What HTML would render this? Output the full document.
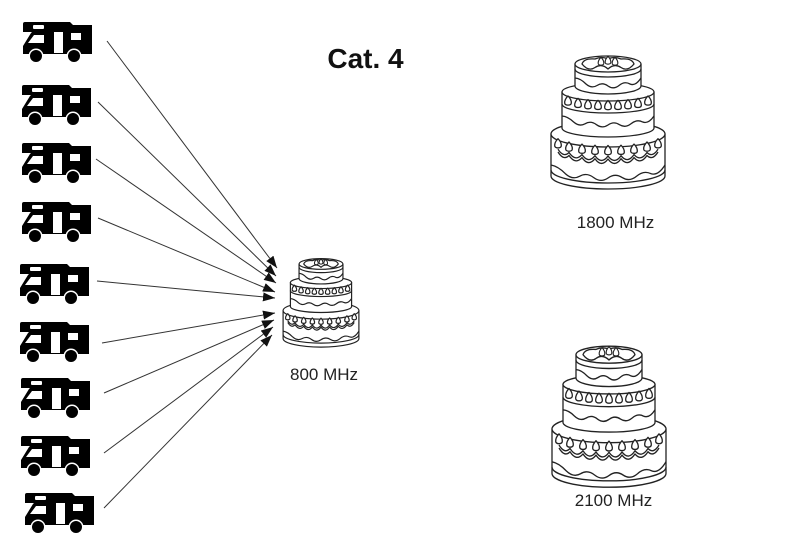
<!DOCTYPE html>
<html>
<head>
<meta charset="utf-8">
<style>
html,body{margin:0;padding:0;background:#fff;}
svg{display:block;}
</style>
</head>
<body>
<svg width="785" height="555" viewBox="0 0 785 555" xmlns="http://www.w3.org/2000/svg" xmlns:xlink="http://www.w3.org/1999/xlink">
<defs>
  <marker id="ah" markerWidth="13" markerHeight="9" refX="12" refY="4.5" orient="auto" markerUnits="userSpaceOnUse">
    <path d="M0,0 L12,4.5 L0,9 Z" fill="#111"/>
  </marker>

  <g id="cv">
    <path d="M2,0 H47 L50,3 H69 V32 H0 V24 L8,11 L9,10 H0 V2 Q0,0 2,0 Z" fill="#000"/>
    <rect x="10" y="3" width="11" height="4" rx="1" fill="#fff"/>
    <path d="M11,13 H21 V21 H5 Z" fill="#fff"/>
    <rect x="31" y="10" width="9" height="21" fill="#fff"/>
    <rect x="48" y="11" width="10" height="7" fill="#fff"/>
    <circle cx="13" cy="34" r="7.5" fill="#fff"/>
    <circle cx="13" cy="34" r="6" fill="#000"/>
    <circle cx="51" cy="34" r="7.5" fill="#fff"/>
    <circle cx="51" cy="34" r="6" fill="#000"/>
  </g>

  <path id="dp" d="M0,-5.5 C2.2,-3.3 3.5,-0.5 3.3,1.7 C2.9,4.4 -2.9,4.4 -3.3,1.7 C-3.5,-0.5 -2.2,-3.3 0,-5.5 Z"/>

  <g id="cake" stroke-linejoin="round">
    <!-- bottom tier -->
    <path d="M-57,82 V124 A57,13 0 0 0 57,124 V82 Z"/>
    <path fill="none" d="M-57,118 A57,13 0 0 0 57,118"/>
    <path fill="none" d="M-57,113 Q-49.9,114.3 -42.75,121.6 Q-35.6,128.2 -28.5,124.3 Q-21.4,120.1 -14.25,125.6 Q-7.1,130.9 0,126 Q7.1,120.9 14.25,125.6 Q21.4,130.1 28.5,124.3 Q35.6,118.2 42.75,121.6 Q49.9,124.3 57,113"/>
    <ellipse cx="0" cy="82" rx="57" ry="13"/>
    <path fill="none" d="M-50,97.2 Q-44.5,106 -39,100.5 Q-32.5,110 -26,102.6 Q-19.5,112 -13,103.7 Q-6.5,113 0,104 Q6.5,113 13,103.7 Q19.5,112 26,102.6 Q32.5,110 39,100.5 Q44.5,106 50,97.2"/>
    <path fill="none" d="M-50,100 Q-44.5,109 -39,103.5 Q-32.5,113 -26,105.6 Q-19.5,115 -13,106.7 Q-6.5,116 0,107 Q6.5,116 13,106.7 Q19.5,115 26,105.6 Q32.5,113 39,103.5 Q44.5,109 50,100"/>
    <use xlink:href="#dp" href="#dp" x="-50" y="92.2"/>
    <use xlink:href="#dp" href="#dp" x="-39" y="95.5"/>
    <use xlink:href="#dp" href="#dp" x="-26" y="97.6"/>
    <use xlink:href="#dp" href="#dp" x="-13" y="98.7"/>
    <use xlink:href="#dp" href="#dp" x="0" y="99"/>
    <use xlink:href="#dp" href="#dp" x="13" y="98.7"/>
    <use xlink:href="#dp" href="#dp" x="26" y="97.6"/>
    <use xlink:href="#dp" href="#dp" x="39" y="95.5"/>
    <use xlink:href="#dp" href="#dp" x="50" y="92.2"/>

    <!-- middle tier -->
    <path d="M-46,40 V76 A46,9 0 0 0 46,76 V40 Z"/>
    <path fill="none" d="M-46,52 A46,9 0 0 0 46,52"/>
    <path fill="none" d="M-46,64 Q-40.25,64.4 -34.5,69.9 Q-28.75,75 -23,71.8 Q-17.25,68.3 -11.5,72.7 Q-5.75,76.9 0,73 Q5.75,68.9 11.5,72.7 Q17.25,76.3 23,71.8 Q28.75,67 34.5,69.9 Q40.25,72.4 46,64"/>
    <ellipse cx="0" cy="40" rx="46" ry="9"/>
    <use xlink:href="#dp" href="#dp" x="-40" y="49.4"/>
    <use xlink:href="#dp" href="#dp" x="-30" y="51.8"/>
    <use xlink:href="#dp" href="#dp" x="-20" y="53.1"/>
    <use xlink:href="#dp" href="#dp" x="-10" y="53.8"/>
    <use xlink:href="#dp" href="#dp" x="0" y="54"/>
    <use xlink:href="#dp" href="#dp" x="10" y="53.8"/>
    <use xlink:href="#dp" href="#dp" x="20" y="53.1"/>
    <use xlink:href="#dp" href="#dp" x="30" y="51.8"/>
    <use xlink:href="#dp" href="#dp" x="40" y="49.4"/>

    <!-- top tier -->
    <path d="M-33,12 V34 A33,8 0 0 0 33,34 V12 Z"/>
    <path fill="none" d="M-33,17 A33,8 0 0 0 33,17"/>
    <path fill="none" d="M-33,26 Q-27.5,26.4 -22,32 Q-16.5,36.9 -11,33.5 Q-5.5,29.9 0,34 Q5.5,37.9 11,33.5 Q16.5,28.9 22,32 Q27.5,34.4 33,26"/>
    <ellipse cx="0" cy="12" rx="33" ry="8"/>
    <path fill="none" d="M-26,12 Q-19.5,20 -13,15.5 Q-6.5,11 0,17 Q6.5,11 13,15.5 Q19.5,20 26,12 Q24,6 13,7 Q6,4 0,7 Q-6,4 -13,7 Q-24,6 -26,12 Z"/>
    <use xlink:href="#dp" href="#dp" transform="translate(-7,10) scale(0.85)"/>
    <use xlink:href="#dp" href="#dp" transform="translate(0,9) scale(0.85)"/>
    <use xlink:href="#dp" href="#dp" transform="translate(7,10) scale(0.85)"/>
  </g>
</defs>

<rect x="0" y="0" width="785" height="555" fill="#fff"/>

<!-- campers -->
<use xlink:href="#cv" href="#cv" x="23" y="22"/>
<use xlink:href="#cv" href="#cv" x="22" y="85"/>
<use xlink:href="#cv" href="#cv" x="22" y="143"/>
<use xlink:href="#cv" href="#cv" x="22" y="202"/>
<use xlink:href="#cv" href="#cv" x="20" y="264"/>
<use xlink:href="#cv" href="#cv" x="20" y="322"/>
<use xlink:href="#cv" href="#cv" x="21" y="378"/>
<use xlink:href="#cv" href="#cv" x="21" y="436"/>
<use xlink:href="#cv" href="#cv" x="25" y="493"/>

<!-- arrows -->
<g stroke="#333" stroke-width="1" fill="none">
  <line x1="107" y1="41" x2="277" y2="268" marker-end="url(#ah)"/>
  <line x1="98" y1="102" x2="276" y2="276" marker-end="url(#ah)"/>
  <line x1="96" y1="159" x2="276" y2="283" marker-end="url(#ah)"/>
  <line x1="98" y1="218" x2="275" y2="292" marker-end="url(#ah)"/>
  <line x1="97" y1="281" x2="275" y2="298" marker-end="url(#ah)"/>
  <line x1="102" y1="343" x2="275" y2="313" marker-end="url(#ah)"/>
  <line x1="104" y1="393" x2="274" y2="320" marker-end="url(#ah)"/>
  <line x1="104" y1="453" x2="273" y2="327" marker-end="url(#ah)"/>
  <line x1="104" y1="508" x2="272" y2="335" marker-end="url(#ah)"/>
</g>

<!-- cakes -->
<use xlink:href="#cake" href="#cake" transform="translate(608,52)" fill="#fff" stroke="#222" stroke-width="1.3"/>
<use xlink:href="#cake" href="#cake" transform="translate(609,342) scale(1,1.06)" fill="#fff" stroke="#222" stroke-width="1.3"/>
<use xlink:href="#cake" href="#cake" transform="translate(321,256) scale(0.665)" fill="#fff" stroke="#222" stroke-width="1.8"/>

<!-- labels -->
<text x="365.5" y="68" font-family="'Liberation Sans', Arial, sans-serif" font-weight="bold" font-size="28" text-anchor="middle" fill="#111">Cat. 4</text>
<text x="615.5" y="228" font-family="'Liberation Sans', Arial, sans-serif" font-size="17" text-anchor="middle" fill="#222">1800 MHz</text>
<text x="324" y="380" font-family="'Liberation Sans', Arial, sans-serif" font-size="17" text-anchor="middle" fill="#222">800 MHz</text>
<text x="613.5" y="506" font-family="'Liberation Sans', Arial, sans-serif" font-size="17" text-anchor="middle" fill="#222">2100 MHz</text>
</svg>
</body>
</html>
